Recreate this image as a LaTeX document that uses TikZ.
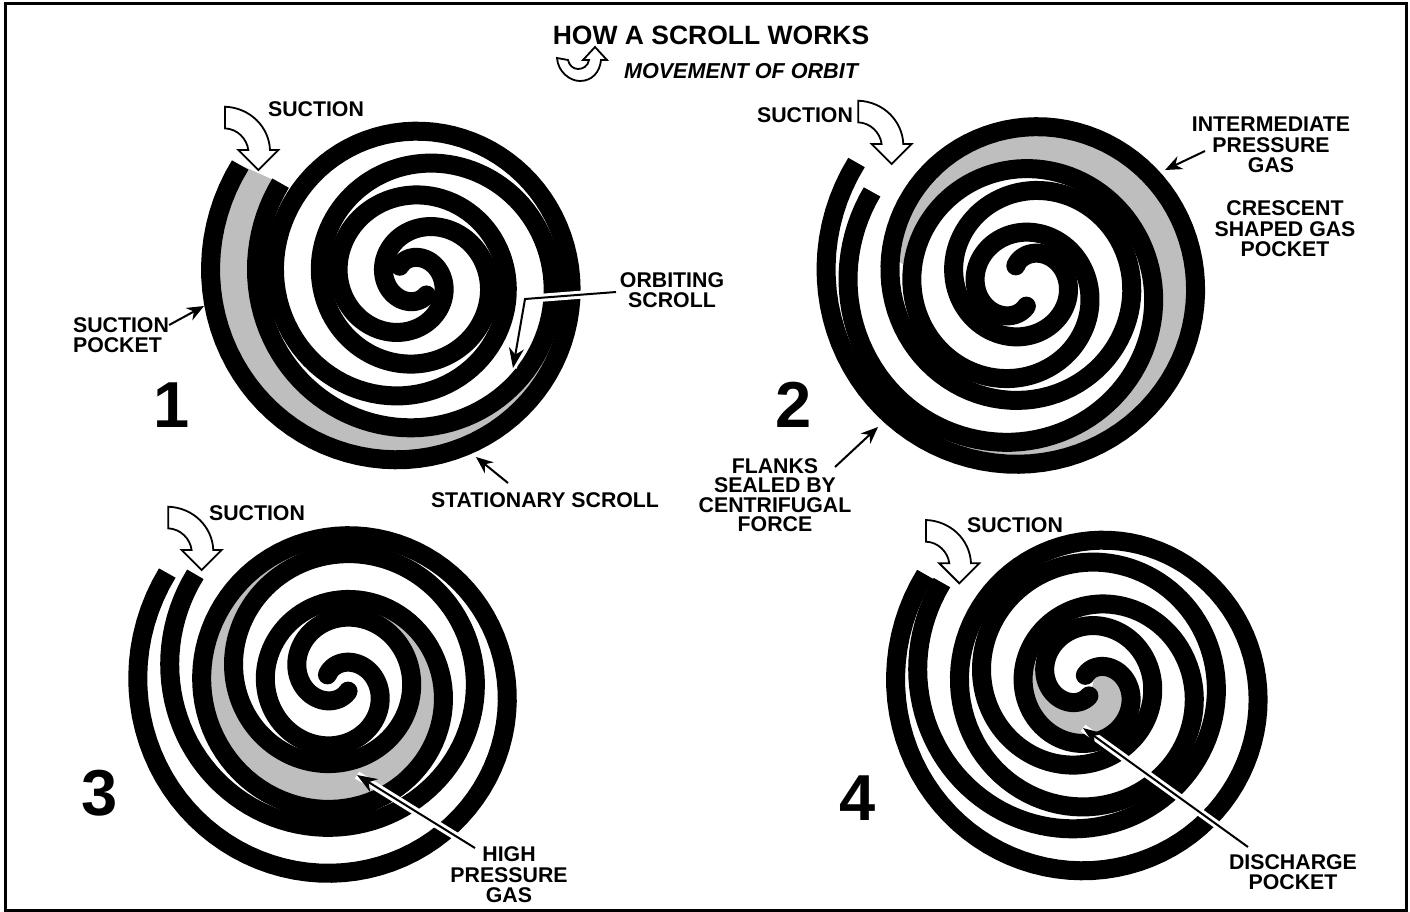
\documentclass[tikz,border=0pt]{standalone}
\usepackage{fontspec}
\setmainfont{Liberation Sans}
\usetikzlibrary{arrows.meta, positioning}
\definecolor{cGas}{HTML}{BEBEBE}

% one scroll wall: centre x, centre y, radius at 180 deg, growth per deg, from, to
\newcommand{\scrollwall}[6]{%
  \draw[wall] plot[domain=#5:#6, samples=280]
    ({#1+(#3+(\x-180)*#4)*cos(\x)}, {#2+(#3+(\x-180)*#4)*sin(\x)});
  \fill ({#1+(#3+(#5-180)*#4)*cos(#5)}, {#2+(#3+(#5-180)*#4)*sin(#5)}) circle[radius=9.5pt];}
% gas between the walls of the two scrolls
\newcommand{\gaspocket}[9]{%
  \fill[cGas] plot[domain=#6:#7, samples=160]
    ({#1+(#5+(\x-180)*.1778)*cos(\x)}, {#2+(#5+(\x-180)*.1778)*sin(\x)})
    -- plot[domain=#9:#8, samples=160]
    ({#3+(#5-32+(\x-180)*.1778)*cos(\x)}, {#4+(#5-32+(\x-180)*.1778)*sin(\x)}) -- cycle;}

\begin{document}
\begin{tikzpicture}[
    x=1pt, y=-1pt,
    wall/.style={line width=19pt, line join=round},
    lab/.style={font=\fontsize{21.3}{20.5}\selectfont\bfseries, align=center, inner sep=0pt},
    num/.style={font=\fontsize{65}{65}\selectfont\bfseries, inner sep=0pt},
    ar/.style={-{Stealth[length=17pt,width=14pt]}, line width=2pt},
    hl/.style={-{Stealth[length=20pt,width=15pt]}, line width=2pt, preaction={draw=white, line width=8pt, -}},
    suc/.style={draw=black, fill=white, line width=1.8pt, line join=miter},
]
\useasboundingbox (0,0) rectangle (1410,911);
\draw[line width=3pt] (5,3) rectangle (1406,910.5);

% === TITLE ===
\node[lab, font=\fontsize{26.5}{27}\selectfont\bfseries] (title) at (711,35) {HOW A SCROLL WORKS};
\node[lab, font=\fontsize{21.6}{22}\selectfont\bfseries\itshape] (orbit) at (741,71) {MOVEMENT OF ORBIT};
\draw[suc] (557,58) .. controls (558,72) and (570,81) .. (580,81)
    .. controls (592,81) and (600,72) .. (601,60) -- (607,60) -- (595,47) -- (583,60) -- (589,60)
    .. controls (588,66) and (583,69) .. (578,69) .. controls (573,69) and (569,65) .. (568,60) -- cycle;

% === PANEL 1 ===
\gaspocket{406.8}{279.5}{420.8}{279.5}{196}{25}{214.5}{25}{214.5}
\scrollwall{406.8}{279.5}{196}{.1778}{-838}{214.5}
\scrollwall{420.8}{279.5}{164}{.1778}{-650}{214.5}
\draw[suc, shift={(225,106.7)}] (0,0) .. controls (25,1) and (44,20) .. (45,43.3) -- (53.3,43.3)
    -- (33.3,63.3) -- (13.3,43.3) -- (23.3,43.3) .. controls (22,32) and (12,22) .. (0,21.7) -- cycle;
\node[lab] (suc1) at (316,109) {SUCTION};
\node[num] (n1) at (172,405) {1};
\node[lab, align=left] (pock) at (121,335) {SUCTION\\POCKET};
\node[lab] (orb) at (672,290) {ORBITING\\SCROLL};
\node[lab] (stat) at (545,500) {STATIONARY SCROLL};
\coordinate (pockt) at (204,306);
\coordinate (orbs) at (616,292);
\coordinate (orbc) at (525,299);
\coordinate (orbt) at (513,368);
\coordinate (stats) at (508,483);
\coordinate (statt) at (476,457);
\draw[ar] (pock.east |- 0,325) -- (pockt);
\draw[hl] (orbs) -- (orbc) -- (orbt);
\draw[ar] (stats) -- (statt);

% === PANEL 2 ===
\gaspocket{1026.8}{279.5}{1016.8}{289.5}{200.5}{-170}{112}{-170}{112}
\scrollwall{1026.8}{279.5}{200.5}{.1778}{-849}{214.5}
\scrollwall{1016.8}{289.5}{168.5}{.1778}{-660}{214}
\draw[suc, shift={(858.3,100.7)}] (0,0) .. controls (25,1) and (44,20) .. (45,43.3) -- (53.3,43.3)
    -- (33.3,63.3) -- (13.3,43.3) -- (23.3,43.3) .. controls (22,32) and (12,22) .. (0,21.7) -- cycle;
\node[lab] (suc2) at (805,115) {SUCTION};
\node[num] (n2) at (794,405) {2};
\node[lab] (inter) at (1271,145) {INTERMEDIATE\\PRESSURE\\GAS};
\node[lab] (cresc) at (1285,229) {CRESCENT\\SHAPED GAS\\POCKET};
\node[lab, font=\fontsize{21.3}{19.4}\selectfont\bfseries] (flank) at (775,495) {FLANKS\\SEALED BY\\CENTRIFUGAL\\FORCE};
\coordinate (inters) at (1205,151);
\coordinate (intert) at (1165,170);
\coordinate (flanks) at (835,467);
\coordinate (flankt) at (878,427);
\draw[ar] (inters) -- (intert);
\draw[ar] (flanks) -- (flankt);

% === PANEL 3 ===
\gaspocket{338.5}{688.5}{338.5}{674.5}{200.5}{-421}{-112}{-421}{-112}
\scrollwall{338.5}{688.5}{200.5}{.1778}{-849}{214}
\scrollwall{338.5}{674.5}{168.5}{.1778}{-660}{215}
\draw[suc, shift={(168.3,506.7)}] (0,0) .. controls (25,1) and (44,20) .. (45,43.3) -- (53.3,43.3)
    -- (33.3,63.3) -- (13.3,43.3) -- (23.3,43.3) .. controls (22,32) and (12,22) .. (0,21.7) -- cycle;
\node[lab] (suc3) at (257,513) {SUCTION};
\node[num] (n3) at (100,793) {3};
\node[lab] (high) at (509,875) {HIGH\\PRESSURE\\GAS};
\coordinate (highs) at (475,848);
\coordinate (hight) at (357,775);
\draw[hl] (highs) -- (hight);

% === PANEL 4 ===
\gaspocket{1092.8}{689.5}{1083}{679.5}{197}{-800}{-518}{-660}{-518}
\scrollwall{1092.8}{689.5}{197}{.1778}{-838}{214.5}
\scrollwall{1083}{679.5}{165}{.1778}{-650}{214.5}
\draw[suc, shift={(926,520)}] (0,0) .. controls (25,1) and (44,20) .. (45,43.3) -- (53.3,43.3)
    -- (33.3,63.3) -- (13.3,43.3) -- (23.3,43.3) .. controls (22,32) and (12,22) .. (0,21.7) -- cycle;
\node[lab] (suc4) at (1015,525) {SUCTION};
\node[num] (n4) at (858,798) {4};
\node[lab] (disch) at (1293,872) {DISCHARGE\\POCKET};
\coordinate (dischs) at (1248,847);
\coordinate (discht) at (1083,728);
\draw[hl] (dischs) -- (discht);

\end{tikzpicture}
\end{document}
